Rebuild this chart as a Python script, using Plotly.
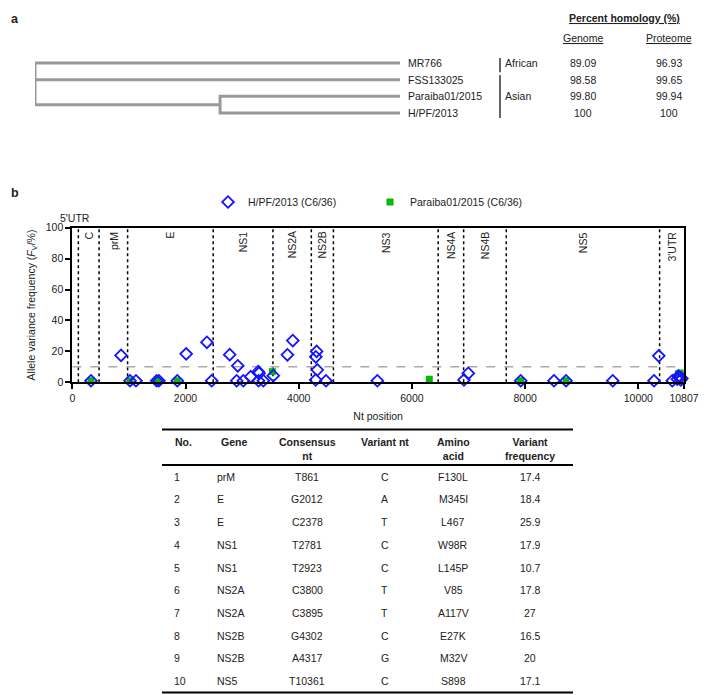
import plotly.graph_objects as go

# the page adds an 8 px body margin, so the figure is 8 px smaller and
# reference pixel positions are shifted by OFF
OFF = 8
W, H = 717 - OFF, 695 - OFF
FONT = "Liberation Sans, Arial, sans-serif"

# ---- panel a: tree + homology ----
strains = ["MR766", "FSS133025", "Paraiba01/2015", "H/PF/2013"]
genome_pct = ["89.09", "98.58", "99.80", "100"]
proteome_pct = ["96.93", "99.65", "99.94", "100"]
lineages = ["African", "Asian"]
lineage_rows = [(0, 0), (1, 3)]
clade_depth = 0.507  # branch point of Paraiba01/2015 + H/PF/2013 (tips at 1.0)

# ---- panel b: variant frequencies ----
genes = ["5'UTR", "C", "prM", "E", "NS1", "NS2A", "NS2B", "NS3", "NS4A", "NS4B", "NS5", "3'UTR"]
gene_ends = [107, 473, 977, 2489, 3545, 4223, 4613, 6464, 6914, 7667, 10376, 10807]
x_ticks = [0, 2000, 4000, 6000, 8000, 10000, 10807]
x_tick_labels = ["0", "2000", "4000", "6000", "8000", "10000", "10807"]
y_ticks = [0, 20, 40, 60, 80, 100]
cutoff = 10

# ---- table of H/PF/2013 variants above cutoff ----
tab_no = [1, 2, 3, 4, 5, 6, 7, 8, 9, 10]
tab_gene = ["prM", "E", "E", "NS1", "NS1", "NS2A", "NS2A", "NS2B", "NS2B", "NS5"]
tab_cons = ["T861", "G2012", "C2378", "T2781", "T2923", "C3800", "C3895", "G4302", "A4317", "T10361"]
tab_var = ["C", "A", "T", "C", "C", "T", "T", "C", "G", "C"]
tab_aa = ["F130L", "M345I", "L467", "W98R", "L145P", "V85", "A117V", "E27K", "M32V", "S898"]
tab_freq = [17.4, 18.4, 25.9, 17.9, 10.7, 17.8, 27, 16.5, 20, 17.1]

# low-frequency variants
hpf_low_x = [330, 1020, 1125, 1490, 1530, 1855, 2463, 2904, 3021, 3152, 3286, 3299, 3290, 3375,
             3551, 4300, 4329, 4482, 5389, 6920, 6996, 7922, 8510, 8723, 9548, 10277, 10600,
             10690, 10710, 10730, 10750, 10770]
hpf_low_y = [1, 1, 1, 1, 1, 1, 1, 1, 1, 3.6, 6.9, 5.8, 1, 1,
             4.3, 1.5, 8, 1, 1, 1.5, 5.8, 1, 1, 1, 1, 1, 1,
             2, 4, 3, 1.5, 2.5]
par_x = [330, 1020, 1502, 1855, 3534, 6307, 7922, 8723, 10710, 10740]
par_y = [1, 1, 1, 1, 6.9, 2, 1, 1, 5.5, 6]


def xp(px):
    return (px - OFF) / W


def yp(py):
    return 1 - (py - OFF) / H


def label(x, y, text, xref="paper", yref="paper", xanchor="center", yanchor="middle", **kw):
    fig.add_annotation(x=x, y=y, xref=xref, yref=yref, text=text, showarrow=False,
                       xanchor=xanchor, yanchor=yanchor, **kw)


hpf_x = [int(c[1:]) for c in tab_cons] + hpf_low_x
hpf_y = tab_freq + hpf_low_y

fig = go.Figure()

# dendrogram
tx, ty = [], []
tx += [1, 0, 0, clade_depth, None]
ty += [0, 0, 2.5, 2.5, None]
tx += [0, 1, None]
ty += [1, 1, None]
tx += [1, clade_depth, clade_depth, 1]
ty += [2, 2, 3, 3]
fig.add_trace(go.Scatter(x=tx, y=ty, mode="lines", xaxis="x2", yaxis="y2",
                         line=dict(color="#999999", width=3), showlegend=False,
                         hoverinfo="skip"))

for i, s in enumerate(strains):
    label(1, i, s, xref="x2", yref="y2", xanchor="left", xshift=6)
    label(xp(583), i, genome_pct[i], yref="y2")
    label(xp(669), i, proteome_pct[i], yref="y2")

for name, (r0, r1) in zip(lineages, lineage_rows):
    lo = r0 - 0.6 if r0 == 0 else r0 - 0.28
    hi = r1 + 0.55 if r1 == 0 else r1 + 0.72
    fig.add_shape(type="line", xref="paper", yref="y2", x0=xp(500), x1=xp(500), y0=lo, y1=hi,
                  line=dict(color="black", width=1.2))
    label(xp(503), r0 if r0 == r1 else 2, name, yref="y2", xanchor="left")

label(xp(624), yp(10), "<b><u>Percent homology (%)</u></b>", yanchor="top")
label(xp(583), yp(38), "<u>Genome</u>")
label(xp(669), yp(38), "<u>Proteome</u>")

# variant scatter
fig.add_trace(go.Scatter(x=par_x, y=par_y, mode="markers", name="Paraiba01/2015 (C6/36)",
                         marker=dict(symbol="square", size=7, color="#00bb00"),
                         cliponaxis=False))
fig.add_trace(go.Scatter(x=hpf_x, y=hpf_y, mode="markers", name="H/PF/2013 (C6/36)",
                         marker=dict(symbol="diamond-open", size=9, color="#1414ff",
                                     line=dict(width=1.8, color="#1414ff")),
                         cliponaxis=False))

for e in gene_ends[:-1]:
    fig.add_shape(type="line", xref="x", yref="y", x0=e, x1=e, y0=0, y1=100,
                  line=dict(color="black", width=1.5, dash="dot"), layer="below")
fig.add_shape(type="line", xref="x", yref="y", x0=0, x1=gene_ends[-1], y0=cutoff, y1=cutoff,
              line=dict(color="#aaaaaa", width=1.5, dash="dash"), layer="below")

starts = [0] + gene_ends[:-1]
for g, s, e in zip(genes, starts, gene_ends):
    if g == "5'UTR":
        label((s + e) / 2, 100, g, xref="x", yref="y", yanchor="bottom", yshift=2)
    else:
        label((s + e) / 2, 100, g, xref="x", yref="y", yanchor="top", yshift=-2, textangle=-90)

# table
hdr_x = [183, 234, 307, 385, 453, 530]
hdr_txt = ["No.", "Gene", "Consensus<br>nt", "Variant nt", "Amino<br>acid", "Variant<br>frequency"]
for x, t in zip(hdr_x, hdr_txt):
    label(xp(x), yp(434), "<b>" + t + "</b>", yanchor="top")

cols = [tab_no, tab_gene, tab_cons, tab_var, tab_aa, tab_freq]
col_x = [172, 215, 307, 385, 453, 530]
col_anchor = ["left", "left", "center", "center", "center", "center"]
for j, col in enumerate(cols):
    for i, v in enumerate(col):
        label(xp(col_x[j]), yp(476.7 + i * 22.7), str(v), xanchor=col_anchor[j])

for yy in [429.5, 465, 692.5]:
    fig.add_shape(type="line", xref="paper", yref="paper", x0=xp(162), x1=xp(573),
                  y0=yp(yy), y1=yp(yy), line=dict(color="black", width=1.8))

# panel letters
label(xp(9), yp(10), "<b>a</b>", xanchor="left", yanchor="top", font=dict(size=12.5))
label(xp(9), yp(193), "<b>b</b>", xanchor="left", font=dict(size=12.5))

fig.update_layout(
    width=W, height=H,
    margin=dict(l=0, r=0, t=0, b=0, autoexpand=False),
    paper_bgcolor="white", plot_bgcolor="white",
    font=dict(family=FONT, size=10.5, color="#222222"),
    legend=dict(orientation="h", traceorder="reversed", x=xp(208), xanchor="left",
                y=yp(202), yanchor="middle", entrywidth=117, entrywidthmode="pixels",
                font=dict(size=10.5), bgcolor="rgba(0,0,0,0)"),
    xaxis=dict(domain=[xp(72.3), xp(684)], range=[0, gene_ends[-1]], tickvals=x_ticks,
               ticktext=x_tick_labels, automargin=False,
               showgrid=False, zeroline=False, showline=True, linecolor="black", linewidth=1.8,
               mirror=True, ticks="outside", ticklen=5, tickwidth=1.8, tickcolor="black",
               title=dict(text="Nt position", standoff=10, font=dict(size=10.5)),
               tickfont=dict(size=10.5)),
    yaxis=dict(domain=[yp(382.3), yp(227.7)], range=[0, 100], tickvals=y_ticks, automargin=False,
               showgrid=False, zeroline=False, showline=True, linecolor="black", linewidth=1.8,
               mirror=True, ticks="outside", ticklen=5, tickwidth=1.8, tickcolor="black",
               title=dict(text="Allele variance frequency (<i>F</i><sub>V</sub>/%)", standoff=8,
                          font=dict(size=10.5)),
               tickfont=dict(size=10.5)),
    xaxis2=dict(domain=[xp(35), xp(400)], range=[0, 1], visible=False, anchor="y2"),
    yaxis2=dict(domain=[yp(118), yp(58)], range=[3.3, -0.3], visible=False, anchor="x2"),
)

fig.write_html("out.html")
